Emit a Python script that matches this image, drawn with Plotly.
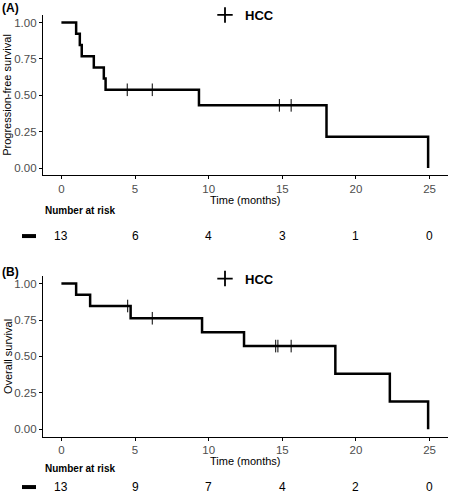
import plotly.graph_objects as go

# ---- data ----
pfs_times = [0, 1.0, 1.25, 1.38, 2.2, 2.88, 3.0, 9.34, 18.0, 24.9]
pfs_surv = [1.0, 0.923, 0.846, 0.769, 0.692, 0.615, 0.538, 0.431, 0.215, 0.0]
pfs_censor = [4.47, 6.17, 14.8, 15.6]

os_times = [0, 1.0, 1.95, 4.7, 9.55, 12.4, 18.6, 22.3, 24.9]
os_surv = [1.0, 0.923, 0.846, 0.762, 0.666, 0.571, 0.381, 0.190, 0.0]
os_censor = [4.5, 6.17, 14.55, 14.7, 15.6]

risk_times = [0, 5, 10, 15, 20, 25]
pfs_risk = [13, 6, 4, 3, 1, 0]
os_risk = [13, 9, 7, 4, 2, 0]

y_ticks = [0, 0.25, 0.5, 0.75, 1.0]
x_ticks = [0, 5, 10, 15, 20, 25]

FONT = "Liberation Sans, Arial, sans-serif"
W, H = 450, 500
ML, MR = 43, 2


def step_at(times, surv, t):
    val = surv[0]
    for ti, si in zip(times, surv):
        if ti <= t:
            val = si
    return val


def px_x(p):
    return (p - ML) / (W - ML - MR)


def px_y(p):
    return 1 - p / H


fig = go.Figure()

panels = [
    ("x", "y", pfs_times, pfs_surv, pfs_censor, "legend"),
    ("x2", "y2", os_times, os_surv, os_censor, "legend2"),
]
for xa, ya, times, surv, cens, leg in panels:
    fig.add_trace(go.Scatter(
        x=times, y=surv, mode="lines", line=dict(shape="hv", color="black", width=2.5),
        xaxis=xa, yaxis=ya, showlegend=False, hoverinfo="x+y"))
    fig.add_trace(go.Scatter(
        x=cens, y=[step_at(times, surv, c) for c in cens], mode="markers",
        marker=dict(symbol="line-ns", size=9, line=dict(color="black", width=1)),
        xaxis=xa, yaxis=ya, showlegend=False))
    fig.add_trace(go.Scatter(
        x=[None], y=[None], mode="markers", name="HCC",
        marker=dict(symbol="cross-thin", size=11, line=dict(color="black", width=1.8)),
        xaxis=xa, yaxis=ya, showlegend=True, legend=leg))

axis_common = dict(
    showline=True, linecolor="black", linewidth=1.2, ticks="outside", ticklen=3,
    tickcolor="black", tickwidth=1, showgrid=False, zeroline=False,
    tickfont=dict(family=FONT, size=11.5, color="#4D4D4D"), automargin=False,
)

yA = [px_y(174), px_y(13.4)]
yB = [px_y(436.3), px_y(275.4)]

fig.update_layout(
    width=W, height=H,
    margin=dict(l=ML, r=MR, t=0, b=0),
    plot_bgcolor="white", paper_bgcolor="white",
    font=dict(family=FONT, color="black"),
    xaxis=dict(axis_common, domain=[0, 1], range=[-1.25, 26.25], tickvals=x_ticks, anchor="y"),
    yaxis=dict(axis_common, domain=yA, range=[-0.05, 1.05], tickvals=y_ticks, tickformat=".2f", anchor="x"),
    xaxis2=dict(axis_common, domain=[0, 1], range=[-1.25, 26.25], tickvals=x_ticks, anchor="y2"),
    yaxis2=dict(axis_common, domain=yB, range=[-0.05, 1.05], tickvals=y_ticks, tickformat=".2f", anchor="x2"),
    legend=dict(x=px_x(205), y=px_y(12.7), xanchor="left", yanchor="middle", orientation="h",
                font=dict(family=FONT, size=13, color="black", weight="bold"),
                bgcolor="rgba(0,0,0,0)", itemwidth=30),
    legend2=dict(x=px_x(205), y=px_y(277.7), xanchor="left", yanchor="middle", orientation="h",
                 font=dict(family=FONT, size=13, color="black", weight="bold"),
                 bgcolor="rgba(0,0,0,0)", itemwidth=30),
)

annotations = []
# panel labels
annotations.append(dict(text="<b>(A)</b>", x=px_x(0), y=px_y(6.5), xref="paper", yref="paper",
                        xanchor="left", yanchor="middle", showarrow=False, font=dict(size=12)))
annotations.append(dict(text="<b>(B)</b>", x=px_x(0), y=px_y(271), xref="paper", yref="paper",
                        xanchor="left", yanchor="middle", showarrow=False, font=dict(size=12)))

# axis titles
titles = [("Progression-free survival", 93.7, 198.5), ("Overall survival", 356, 460.5)]
for ytitle, ymid, xtitle_y in titles:
    annotations.append(dict(text=ytitle, x=px_x(7.5), y=px_y(ymid), xref="paper", yref="paper",
                            xanchor="center", yanchor="middle", textangle=-90, showarrow=False,
                            font=dict(size=11)))
    annotations.append(dict(text="Time (months)", x=px_x(245), y=px_y(xtitle_y), xref="paper",
                            yref="paper", xanchor="center", yanchor="middle", showarrow=False,
                            font=dict(size=11)))

tables = [("x", pfs_risk, 209.5, 235), ("x2", os_risk, 468, 487)]
for xa, risk, head_y, row_y in tables:
    annotations.append(dict(text="<b>Number at risk</b>", x=px_x(43), y=px_y(head_y), xref="paper",
                            yref="paper", xanchor="left", yanchor="middle", showarrow=False,
                            font=dict(size=10)))
    for t, n in zip(risk_times, risk):
        annotations.append(dict(text=str(n), x=t, y=px_y(row_y), xref=xa, yref="paper",
                                xanchor="center", yanchor="middle", showarrow=False,
                                font=dict(size=12)))
    fig.add_shape(type="rect", xref="paper", yref="paper",
                  x0=px_x(22), x1=px_x(36), y0=px_y(row_y - 2), y1=px_y(row_y + 2),
                  fillcolor="black", line=dict(width=0))

fig.update_layout(annotations=annotations)
fig.write_html(
    "out.html",
    config={"displayModeBar": False},
    post_script="document.body.style.margin='0';document.body.style.overflow='hidden';",
)
